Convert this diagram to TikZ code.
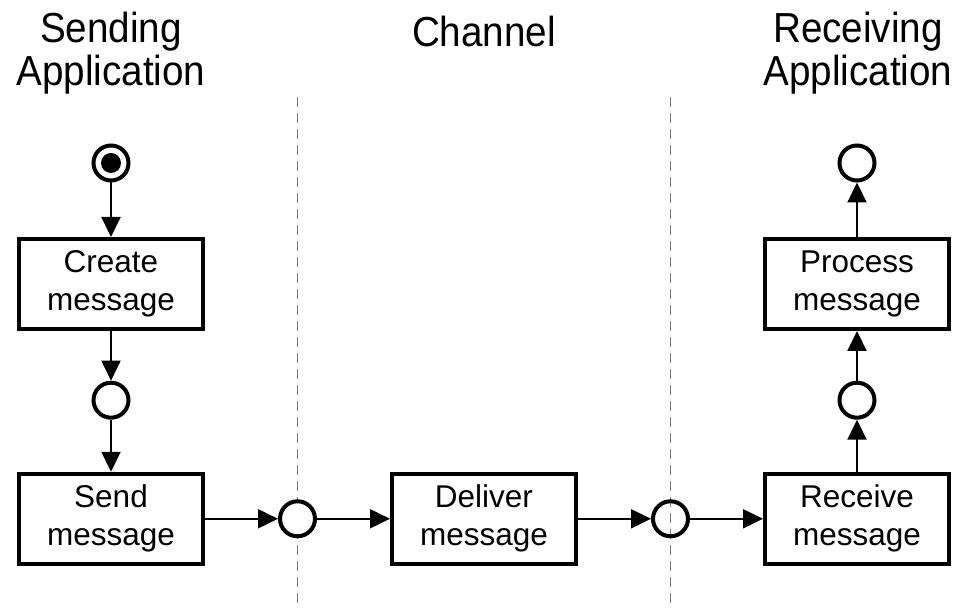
\documentclass[tikz,border=0pt]{standalone}
\usepackage{fontspec}
\setmainfont{Liberation Sans}
\newfontfamily\titlefont[FakeStretch=0.92]{Liberation Sans}
\usetikzlibrary{arrows.meta,positioning}

\begin{document}
\begin{tikzpicture}[->,>={Triangle[length=10pt,width=9.5pt]},line width=1pt,
  x=0.5pt,y=-0.5pt,node distance=59.3pt,
  state node/.style={circle,fill=white,draw,line width=2pt,minimum size=17.5pt,inner sep=0pt},
  init node/.style={state node,path picture={\fill[black,-] (path picture bounding box.center) circle (5pt);}},
  act node/.style={rectangle,fill=white,draw,line width=2pt,minimum width=92pt,minimum height=45pt,
    inner sep=0pt,align=center,font=\fontsize{15.75pt}{19pt}\selectfont},
  title node/.style={align=center,inner sep=0pt,font=\titlefont\fontsize{21pt}{21.5pt}\selectfont},
  lane/.style={-,draw=gray,line width=0.6pt,dash pattern=on 5pt off 3pt}]

  \useasboundingbox (0,0) rectangle (965,608);

  \node[title node] (20) at (111,53) {Sending\\Application};
  \node[title node,anchor=base] (21) at (484,47) {Channel};
  \node[title node] (22) at (858,53) {Receiving\\Application};

  % swimlane borders
  \draw[lane] (297.5,97) -- (297.5,605);
  \draw[lane] (670.5,97) -- (670.5,605);

  \node[init node] (1) at (111,163) {};
  \node[act node] (2) [below of=1,yshift=-1.2pt] {Create\\message};
  \node[state node] (3) [below of=2,yshift=1.2pt] {};
  \node[act node] (4) [below of=3] {Send\\message};
  \node[state node] (5) [right of=4,node distance=93.25pt] {};
  \node[act node] (6) [right of=5,node distance=93.25pt] {Deliver\\message};
  \node[state node,fill=none] (7) [right of=6,node distance=93.25pt] {};
  \node[act node] (8) [right of=7,node distance=93.25pt] {Receive\\message};
  \node[state node] (9) [above of=8] {};
  \node[act node] (10) [above of=9,yshift=-1.2pt] {Process\\message};
  \node[state node] (11) [above of=10,yshift=1.2pt] {};

  \path
    (1) edge (2)
    (2) edge (3)
    (3) edge (4)
    (4) edge (5)
    (5) edge (6)
    (6) edge (7)
    (7) edge (8)
    (8) edge (9)
    (9) edge (10)
    (10) edge (11);
\end{tikzpicture}
\end{document}
